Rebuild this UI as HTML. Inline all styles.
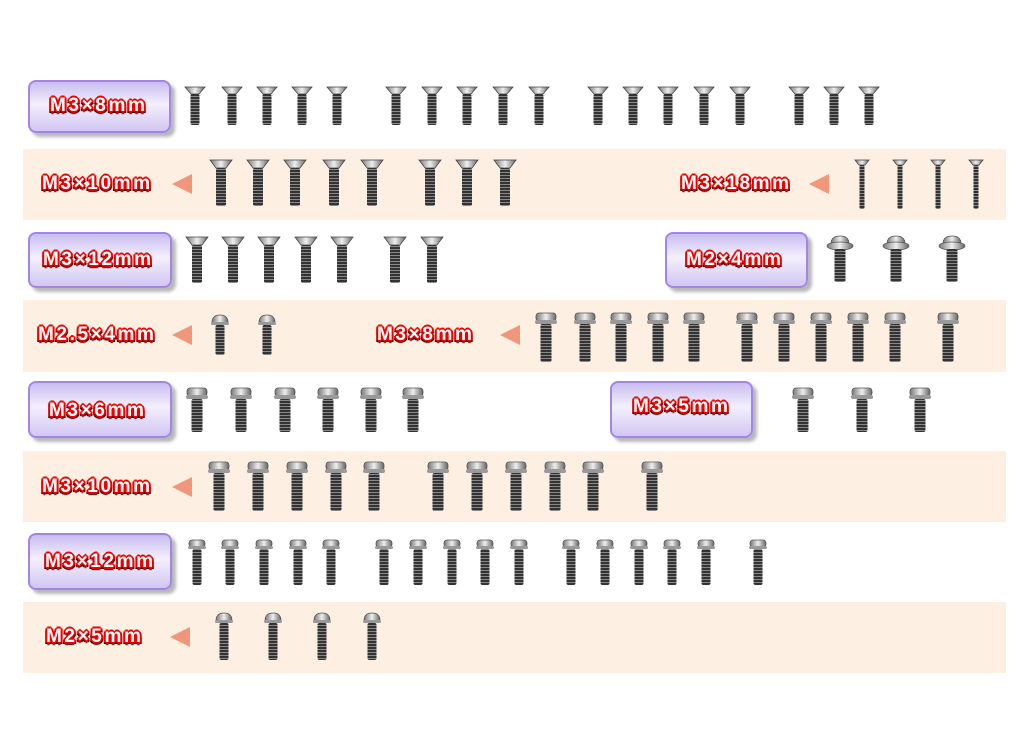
<!DOCTYPE html>
<html><head><meta charset="utf-8"><style>
html,body{margin:0;padding:0;background:#fff;}
#c{position:relative;width:1024px;height:753px;overflow:hidden;background:#fff;font-family:"Liberation Sans",sans-serif;}
.band{position:absolute;left:23px;width:983px;background:#fdefe1;}
.pl{position:absolute;border:2px solid #a285e6;border-radius:8px;background:linear-gradient(180deg,#c9bdf0 0%,#f3f0fc 45%,#d2c6f3 100%);box-shadow:4px 4px 3px #b8b8b8;box-sizing:border-box;}
.t{position:absolute;color:#fff;font-weight:bold;font-size:19px;letter-spacing:2.6px;white-space:nowrap;
text-shadow:-1px -1px 0 #e00,1px -1px 0 #e00,-1px 1px 0 #e00,1px 1px 0 #e00,0 2px 0 #e00,2px 0 0 #e00,-2px 0 0 #e00,0 -2px 0 #e00,-2px 2px 0 #300,2px 2px 0 #300,0 3px 1px #300;}
.ar{position:absolute;width:0;height:0;border-top:10px solid transparent;border-bottom:10px solid transparent;border-right:20px solid #f0967a;}
svg{position:absolute;left:0;top:0;}
</style></head><body><div id="c">
<div class="band" style="top:149px;height:71px"></div>
<div class="band" style="top:300px;height:72px"></div>
<div class="band" style="top:451px;height:71px"></div>
<div class="band" style="top:602px;height:71px"></div>

<div class="pl" style="left:28px;top:80px;width:143px;height:53px"></div>
<div class="pl" style="left:28px;top:232px;width:144px;height:56px"></div>
<div class="pl" style="left:665px;top:232px;width:143px;height:56px"></div>
<div class="pl" style="left:28px;top:381px;width:144px;height:57px"></div>
<div class="pl" style="left:610px;top:381px;width:143px;height:57px"></div>
<div class="pl" style="left:28px;top:533px;width:144px;height:57px"></div>

<div class="t" style="left:50px;top:95px">M3×8mm</div>
<div class="t" style="left:42px;top:173px">M3×10mm</div>
<div class="ar" style="left:172px;top:174px"></div>
<div class="t" style="left:681px;top:173px">M3×18mm</div>
<div class="ar" style="left:809px;top:174px"></div>
<div class="t" style="left:43px;top:249px">M3×12mm</div>
<div class="t" style="left:686px;top:249px">M2×4mm</div>
<div class="t" style="left:38px;top:324px">M2.5×4mm</div>
<div class="ar" style="left:172px;top:325px"></div>
<div class="t" style="left:377px;top:324px">M3×8mm</div>
<div class="ar" style="left:500px;top:325px"></div>
<div class="t" style="left:49px;top:400px">M3×6mm</div>
<div class="t" style="left:633px;top:396px">M3×5mm</div>
<div class="t" style="left:42px;top:476px">M3×10mm</div>
<div class="ar" style="left:172px;top:477px"></div>
<div class="t" style="left:45px;top:551px">M3×12mm</div>
<div class="t" style="left:46px;top:626px">M2×5mm</div>
<div class="ar" style="left:170px;top:627px"></div>

<svg width="1024" height="753" viewBox="0 0 1024 753">
<defs>
<pattern id="th" width="10" height="3" patternUnits="userSpaceOnUse"><rect width="10" height="3" fill="#333"/><rect y="0" width="10" height="1" fill="#888"/></pattern>
<linearGradient id="hd" x1="0" y1="0" x2="1" y2="0"><stop offset="0" stop-color="#777"/><stop offset="0.5" stop-color="#eee"/><stop offset="1" stop-color="#666"/></linearGradient>
<symbol id="csA" overflow="visible"><polygon points="-10,0 10,0 4,7 -4,7" fill="url(#hd)" stroke="#444" stroke-width="0.8"/><rect x="-4.5" y="7" width="9" height="31" rx="2" fill="url(#th)"/></symbol>
<symbol id="csB" overflow="visible"><polygon points="-11,0 11,0 5,8 -5,8" fill="url(#hd)" stroke="#444" stroke-width="0.8"/><rect x="-5" y="8" width="10" height="38" rx="2" fill="url(#th)"/></symbol>
<symbol id="csT" overflow="visible"><polygon points="-7,0 7,0 3,5 -3,5" fill="url(#hd)" stroke="#444" stroke-width="0.8"/><rect x="-2.5" y="5" width="5" height="44" rx="1.5" fill="url(#th)"/></symbol>
<symbol id="flg" overflow="visible"><path d="M-9,8 Q-9,0 0,0 Q9,0 9,8 Z" fill="url(#hd)" stroke="#555" stroke-width="0.8"/><ellipse cx="0" cy="10" rx="13" ry="4" fill="url(#hd)" stroke="#555" stroke-width="0.8"/><rect x="-5.5" y="13" width="11" height="33" rx="2" fill="url(#th)"/></symbol>
<symbol id="bh" overflow="visible"><rect x="-10" y="0" width="20" height="8" rx="3" fill="url(#hd)" stroke="#555" stroke-width="0.8"/><rect x="-11" y="7" width="22" height="4" rx="2" fill="#999"/><rect x="-5.5" y="11" width="11" height="38" rx="2" fill="url(#th)"/></symbol>
<symbol id="bhS" overflow="visible"><rect x="-10" y="0" width="20" height="8" rx="3" fill="url(#hd)" stroke="#555" stroke-width="0.8"/><rect x="-11" y="7" width="22" height="4" rx="2" fill="#999"/><rect x="-5.5" y="11" width="11" height="33" rx="2" fill="url(#th)"/></symbol>
<symbol id="bhM" overflow="visible"><rect x="-8" y="0" width="16" height="7" rx="3" fill="url(#hd)" stroke="#555" stroke-width="0.8"/><rect x="-9" y="6" width="18" height="3" rx="1.5" fill="#999"/><rect x="-4.5" y="9" width="9" height="36" rx="2" fill="url(#th)"/></symbol>
<symbol id="bh25" overflow="visible"><path d="M-8,8 Q-8,0 0,0 Q8,0 8,8 Z" fill="url(#hd)" stroke="#555" stroke-width="0.8"/><rect x="-9" y="7" width="18" height="3" rx="1.5" fill="#999"/><rect x="-4.5" y="10" width="9" height="30" rx="2" fill="url(#th)"/></symbol>
<symbol id="m25" overflow="visible"><path d="M-8,8 Q-8,0 0,0 Q8,0 8,8 Z" fill="url(#hd)" stroke="#555" stroke-width="0.8"/><rect x="-9" y="7" width="18" height="3" rx="1.5" fill="#999"/><rect x="-4.5" y="10" width="9" height="37" rx="2" fill="url(#th)"/></symbol>
</defs>
<g>
<use href="#csA" x="195" y="87"/><use href="#csA" x="232" y="87"/><use href="#csA" x="267" y="87"/><use href="#csA" x="302" y="87"/><use href="#csA" x="337" y="87"/>
<use href="#csA" x="396" y="87"/><use href="#csA" x="432" y="87"/><use href="#csA" x="467" y="87"/><use href="#csA" x="503" y="87"/><use href="#csA" x="539" y="87"/>
<use href="#csA" x="598" y="87"/><use href="#csA" x="633" y="87"/><use href="#csA" x="668" y="87"/><use href="#csA" x="704" y="87"/><use href="#csA" x="740" y="87"/>
<use href="#csA" x="799" y="87"/><use href="#csA" x="834" y="87"/><use href="#csA" x="869" y="87"/>

<use href="#csB" x="221" y="160"/><use href="#csB" x="258" y="160"/><use href="#csB" x="295" y="160"/><use href="#csB" x="334" y="160"/><use href="#csB" x="372" y="160"/>
<use href="#csB" x="430" y="160"/><use href="#csB" x="467" y="160"/><use href="#csB" x="505" y="160"/>
<use href="#csT" x="862" y="160"/><use href="#csT" x="900" y="160"/><use href="#csT" x="938" y="160"/><use href="#csT" x="976" y="160"/>

<use href="#csB" x="197" y="237"/><use href="#csB" x="233" y="237"/><use href="#csB" x="269" y="237"/><use href="#csB" x="306" y="237"/><use href="#csB" x="342" y="237"/>
<use href="#csB" x="395" y="237"/><use href="#csB" x="432" y="237"/>
<use href="#flg" x="840" y="236"/><use href="#flg" x="896" y="236"/><use href="#flg" x="952" y="236"/>

<use href="#bh25" x="220" y="315"/><use href="#bh25" x="267" y="315"/>
<use href="#bh" x="546" y="313"/><use href="#bh" x="585" y="313"/><use href="#bh" x="621" y="313"/><use href="#bh" x="658" y="313"/><use href="#bh" x="694" y="313"/>
<use href="#bh" x="747" y="313"/><use href="#bh" x="784" y="313"/><use href="#bh" x="821" y="313"/><use href="#bh" x="858" y="313"/><use href="#bh" x="895" y="313"/><use href="#bh" x="948" y="313"/>

<use href="#bhS" x="197" y="388"/><use href="#bhS" x="241" y="388"/><use href="#bhS" x="285" y="388"/><use href="#bhS" x="328" y="388"/><use href="#bhS" x="371" y="388"/><use href="#bhS" x="413" y="388"/>
<use href="#bhS" x="803" y="388"/><use href="#bhS" x="862" y="388"/><use href="#bhS" x="920" y="388"/>

<use href="#bh" x="219" y="462"/><use href="#bh" x="258" y="462"/><use href="#bh" x="297" y="462"/><use href="#bh" x="336" y="462"/><use href="#bh" x="374" y="462"/>
<use href="#bh" x="438" y="462"/><use href="#bh" x="477" y="462"/><use href="#bh" x="516" y="462"/><use href="#bh" x="555" y="462"/><use href="#bh" x="593" y="462"/><use href="#bh" x="652" y="462"/>

<use href="#bhM" x="197" y="540"/><use href="#bhM" x="230" y="540"/><use href="#bhM" x="264" y="540"/><use href="#bhM" x="298" y="540"/><use href="#bhM" x="331" y="540"/>
<use href="#bhM" x="384" y="540"/><use href="#bhM" x="418" y="540"/><use href="#bhM" x="452" y="540"/><use href="#bhM" x="485" y="540"/><use href="#bhM" x="519" y="540"/>
<use href="#bhM" x="571" y="540"/><use href="#bhM" x="605" y="540"/><use href="#bhM" x="639" y="540"/><use href="#bhM" x="672" y="540"/><use href="#bhM" x="706" y="540"/><use href="#bhM" x="758" y="540"/>

<use href="#m25" x="224" y="613"/><use href="#m25" x="273" y="613"/><use href="#m25" x="322" y="613"/><use href="#m25" x="372" y="613"/>
</g>
</svg>
</div></body></html>
